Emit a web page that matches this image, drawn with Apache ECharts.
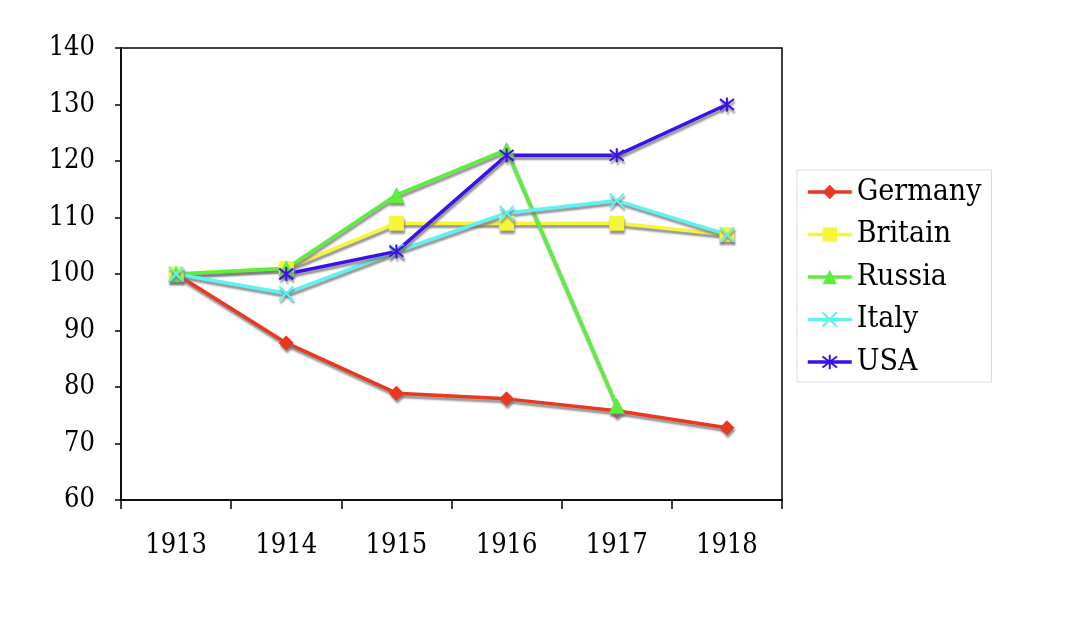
<!DOCTYPE html>
<html style="height: 100%">
<head>
    <meta charset="utf-8">
    <title>Index numbers 1913-1918</title>
    <script src="https://cdn.jsdelivr.net/npm/echarts@6/dist/echarts.min.js"></script>
</head>
<body style="height: 100%; margin: 0; background: #fff">
    <div id="main" style="width: 1065px; height: 631px"></div>
    <script type="text/javascript">
        // data
        var years   = ['1913', '1914', '1915', '1916', '1917', '1918'];
        var germany = [100, 87.8, 78.9, 77.9, 75.8, 72.8];
        var britain = [100, 101, 109, 109, 109, 107];
        var russia  = [100, 101, 114, 122, 76.7, null];
        var italy   = [100, 96.6, 104, 110.8, 113, 107];
        var usa     = [null, 100, 104, 121, 121, 130];

        var font = '"DejaVu Serif Condensed", "DejaVu Serif"';
        var crossPath = 'path://M0,0L10,10M10,0L0,10';
        var starPath  = 'path://M0,0L10,10M10,0L0,10M5,-1.5L5,11.5';

        function makeSeries(name, data, color, symbol, size, stroke) {
            return {
                name: name,
                type: 'line',
                data: data,
                symbol: symbol,
                symbolSize: size,
                connectNulls: false,
                lineStyle: {
                    color: color,
                    width: 3.5,
                    shadowColor: 'rgba(120,120,120,0.8)',
                    shadowBlur: 2,
                    shadowOffsetX: 1,
                    shadowOffsetY: 3
                },
                itemStyle: {
                    color: color,
                    borderColor: color,
                    borderWidth: stroke ? 2 : 0,
                    opacity: 1,
                    shadowColor: 'rgba(120,120,120,0.8)',
                    shadowBlur: 2,
                    shadowOffsetX: 1,
                    shadowOffsetY: 3
                },
                emphasis: { disabled: true }
            };
        }

        var myChart = echarts.init(document.getElementById('main'));

        var option = {
            animation: false,
            textStyle: { fontFamily: font, color: '#000' },
            grid: {
                left: 121, right: 283, top: 48, bottom: 131,
                show: true, borderColor: '#000', borderWidth: 1.5
            },
            legend: {
                orient: 'vertical',
                left: 797, top: 170,
                padding: [7, 10, 5, 9],
                itemWidth: 44, itemHeight: 18,
                itemGap: 12.5,
                borderColor: '#ddd', borderWidth: 1,
                lineStyle: { width: 3.5, shadowBlur: 0, shadowOffsetX: 0, shadowOffsetY: 0 },
                itemStyle: { shadowBlur: 0, shadowOffsetX: 0, shadowOffsetY: 0 },
                textStyle: { fontFamily: font, fontSize: 30, color: '#000' },
                data: ['Germany', 'Britain', 'Russia', 'Italy', 'USA']
            },
            xAxis: {
                type: 'category',
                data: years,
                boundaryGap: true,
                axisLine: { lineStyle: { color: '#000', width: 1.5 } },
                axisTick: { show: true, inside: false, length: 9, lineStyle: { color: '#000', width: 1.5 } },
                axisLabel: { fontFamily: font, fontSize: 27, color: '#000', margin: 32 },
                splitLine: { show: false }
            },
            yAxis: {
                type: 'value',
                min: 60, max: 140, interval: 10,
                axisLine: { show: true, lineStyle: { color: '#000', width: 1.5 } },
                axisTick: { show: true, inside: false, length: 6, lineStyle: { color: '#000', width: 1.5 } },
                axisLabel: { fontFamily: font, fontSize: 27, color: '#000', margin: 26 },
                splitLine: { show: false }
            },
            series: [
                makeSeries('Germany', germany, '#e8381f', 'diamond', 15, false),
                makeSeries('Britain', britain, '#f7f53a', 'rect', 15, false),
                makeSeries('Russia', russia, '#5cee3c', 'triangle', 16, false),
                makeSeries('Italy', italy, '#5ef2f2', crossPath, 14, true),
                makeSeries('USA', usa, '#3a12e8', starPath, 14, true)
            ]
        };

        myChart.setOption(option);
    </script>
</body>
</html>
